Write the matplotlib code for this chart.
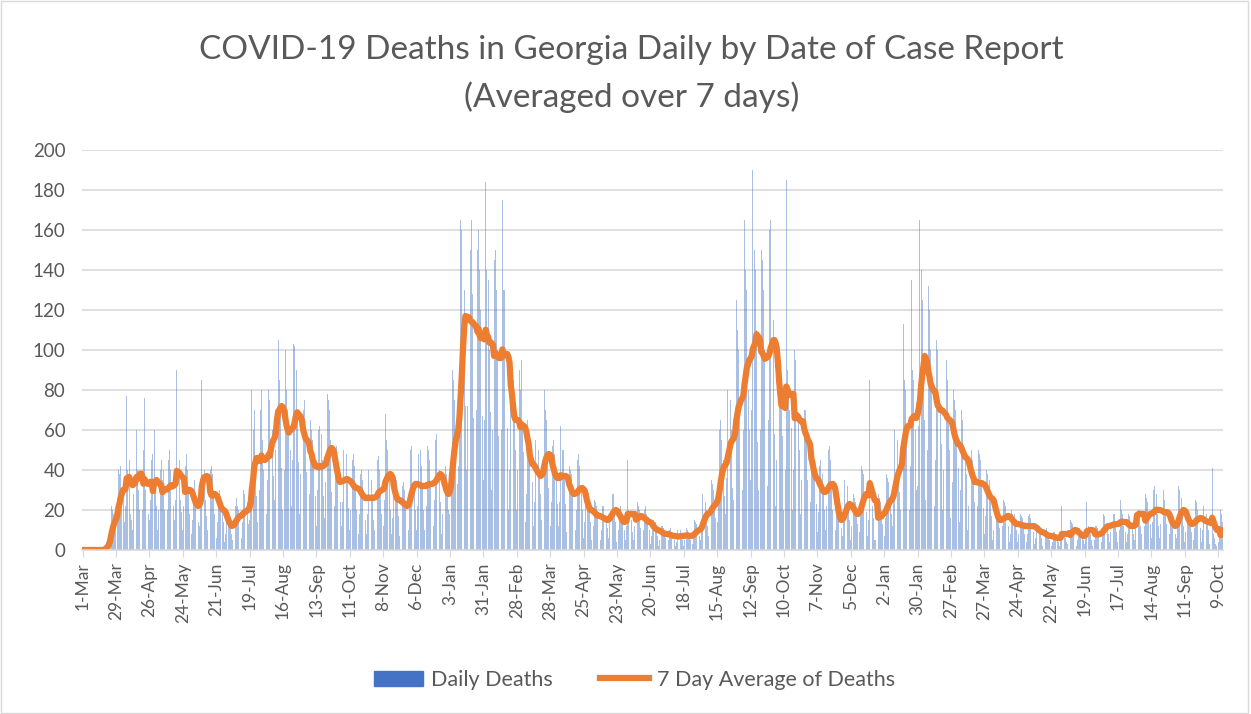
import numpy as np
import pandas as pd
import matplotlib
matplotlib.use("Agg")
import matplotlib.pyplot as plt
from matplotlib.patches import Rectangle
from matplotlib.lines import Line2D

plt.rcParams['font.family'] = ['Lato', 'DejaVu Sans']

# daily deaths, one row per week, starting Sunday 1-Mar-2020
daily_deaths = [
    0, 0, 0, 0, 0, 0, 0,
    0, 0, 0, 0, 0, 0, 0,
    0, 0, 0, 0, 1, 2, 4,
    3, 8, 12, 22, 20, 18, 15,
    12, 20, 40, 38, 42, 30, 28,
    14, 22, 77, 40, 45, 18, 15,
    10, 28, 78, 60, 40, 30, 20,
    12, 20, 50, 76, 30, 25, 18,
    15, 25, 45, 48, 60, 30, 22,
    10, 20, 40, 45, 35, 40, 20,
    12, 20, 45, 50, 40, 35, 22,
    15, 25, 90, 40, 45, 25, 19,
    10, 22, 42, 48, 40, 30, 18,
    8, 15, 30, 35, 28, 24, 14,
    12, 25, 85, 55, 40, 25, 17,
    10, 18, 40, 42, 38, 30, 18,
    6, 14, 28, 30, 26, 22, 14,
    4, 8, 16, 18, 16, 14, 8,
    5, 12, 22, 26, 22, 20, 12,
    6, 14, 30, 28, 25, 24, 13,
    15, 30, 80, 60, 70, 40, 27,
    14, 30, 70, 80, 55, 40, 26,
    18, 35, 80, 75, 80, 60, 37,
    25, 50, 128, 105, 85, 70, 41,
    20, 40, 100, 80, 70, 60, 50,
    22, 45, 103, 102, 90, 70, 44,
    18, 38, 90, 70, 75, 55, 39,
    14, 28, 65, 60, 55, 45, 27,
    12, 30, 60, 62, 58, 45, 27,
    16, 34, 78, 75, 70, 55, 29,
    10, 22, 50, 52, 45, 35, 24,
    12, 24, 50, 55, 48, 35, 21,
    10, 20, 45, 48, 42, 32, 20,
    8, 18, 38, 40, 35, 28, 15,
    8, 18, 40, 38, 35, 28, 15,
    10, 20, 45, 47, 40, 30, 18,
    12, 25, 68, 55, 50, 36, 20,
    8, 16, 38, 36, 35, 25, 17,
    7, 15, 32, 34, 30, 22, 14,
    10, 22, 50, 52, 45, 32, 20,
    10, 22, 48, 50, 42, 32, 20,
    10, 22, 52, 50, 45, 32, 20,
    12, 25, 55, 58, 52, 40, 24,
    8, 18, 40, 42, 38, 30, 20,
    18, 38, 90, 85, 75, 60, 33,
    42, 80, 165, 160, 170, 130, 72,
    40, 72, 170, 150, 165, 128, 66,
    35, 70, 150, 160, 140, 120, 67,
    35, 65, 184, 140, 135, 100, 69,
    30, 60, 145, 150, 130, 100, 57,
    30, 60, 175, 130, 130, 100, 61,
    20, 40, 95, 100, 85, 65, 50,
    20, 40, 90, 80, 95, 60, 49,
    14, 28, 65, 60, 55, 45, 34,
    12, 24, 55, 52, 50, 38, 28,
    15, 30, 80, 70, 65, 45, 31,
    12, 24, 52, 55, 48, 38, 23,
    12, 24, 62, 50, 50, 38, 23,
    9, 18, 42, 40, 38, 30, 19,
    10, 20, 45, 48, 42, 32, 20,
    6, 14, 30, 28, 28, 20, 14,
    5, 12, 25, 24, 22, 19, 12,
    5, 10, 22, 22, 20, 15, 11,
    6, 14, 30, 28, 28, 20, 14,
    4, 10, 20, 22, 18, 14, 10,
    5, 12, 45, 20, 20, 15, 9,
    5, 12, 25, 24, 22, 20, 11,
    4, 10, 20, 22, 18, 14, 10,
    3, 7, 14, 15, 14, 10, 7,
    2, 5, 12, 12, 11, 8, 6,
    2, 5, 10, 11, 9, 7, 5,
    2, 4, 10, 10, 10, 8, 5,
    2, 5, 11, 10, 9, 7, 5,
    3, 7, 15, 14, 13, 11, 7,
    5, 12, 28, 25, 24, 20, 12,
    7, 15, 35, 33, 30, 25, 16,
    14, 28, 60, 65, 55, 45, 27,
    18, 36, 80, 85, 75, 60, 31,
    25, 50, 125, 110, 100, 70, 45,
    30, 60, 165, 140, 130, 80, 60,
    35, 70, 190, 150, 140, 110, 54,
    30, 60, 150, 145, 130, 100, 57,
    32, 65, 160, 165, 140, 115, 58,
    22, 45, 110, 100, 95, 75, 57,
    20, 40, 185, 90, 80, 70, 61,
    20, 40, 100, 95, 85, 65, 50,
    18, 35, 102, 70, 70, 55, 35,
    12, 24, 55, 52, 48, 38, 23,
    9, 19, 42, 45, 38, 30, 20,
    10, 22, 50, 52, 45, 32, 20,
    5, 10, 22, 22, 20, 15, 11,
    7, 15, 35, 33, 32, 24, 15,
    5, 12, 28, 26, 24, 18, 13,
    9, 18, 42, 40, 38, 30, 19,
    7, 15, 85, 25, 22, 16, 5,
    5, 12, 28, 26, 24, 18, 13,
    7, 16, 38, 36, 34, 26, 18,
    12, 26, 60, 58, 55, 40, 29,
    20, 40, 113, 85, 80, 60, 36,
    20, 42, 135, 90, 85, 60, 30,
    32, 62, 165, 140, 125, 90, 65,
    25, 50, 132, 120, 100, 80, 53,
    22, 45, 105, 100, 95, 70, 53,
    20, 40, 100, 95, 85, 65, 50,
    16, 34, 80, 75, 70, 55, 41,
    14, 30, 70, 65, 60, 45, 38,
    10, 22, 52, 50, 45, 35, 24,
    10, 22, 50, 48, 45, 35, 21,
    8, 17, 40, 38, 35, 27, 17,
    5, 10, 22, 22, 20, 15, 11,
    5, 12, 25, 24, 22, 19, 12,
    4, 8, 20, 18, 18, 13, 10,
    4, 8, 18, 17, 16, 13, 8,
    4, 8, 17, 18, 16, 12, 9,
    3, 6, 13, 14, 12, 9, 6,
    2, 5, 10, 11, 9, 7, 5,
    2, 4, 9, 9, 8, 6, 4,
    2, 5, 22, 9, 8, 6, 4,
    3, 7, 15, 14, 13, 11, 7,
    2, 5, 10, 11, 9, 7, 5,
    3, 7, 24, 12, 11, 8, 5,
    2, 5, 12, 12, 11, 8, 6,
    4, 8, 18, 17, 16, 13, 8,
    4, 9, 20, 18, 18, 13, 9,
    4, 10, 25, 20, 18, 12, 9,
    4, 8, 18, 17, 16, 13, 8,
    5, 12, 51, 20, 18, 12, 8,
    5, 12, 28, 26, 24, 18, 13,
    6, 14, 30, 32, 28, 18, 12,
    6, 13, 28, 30, 25, 18, 13,
    4, 8, 18, 17, 16, 13, 8,
    6, 14, 32, 30, 26, 20, 12,
    4, 9, 20, 18, 18, 13, 9,
    5, 11, 25, 24, 20, 16, 11,
    4, 10, 22, 20, 18, 14, 10,
    3, 7, 41, 8, 6, 3, 2,
    4, 9, 20, 18, 14,
]

tick_labels = ['1-Mar', '29-Mar', '26-Apr', '24-May', '21-Jun', '19-Jul', '16-Aug',
               '13-Sep', '11-Oct', '8-Nov', '6-Dec', '3-Jan', '31-Jan', '28-Feb',
               '28-Mar', '25-Apr', '23-May', '20-Jun', '18-Jul', '15-Aug', '12-Sep',
               '10-Oct', '7-Nov', '5-Dec', '2-Jan', '30-Jan', '27-Feb', '27-Mar',
               '24-Apr', '22-May', '19-Jun', '17-Jul', '14-Aug', '11-Sep', '9-Oct']

deaths = pd.Series(daily_deaths, dtype=float)
avg7 = deaths.rolling(7, min_periods=1).mean()
days = np.arange(len(deaths))

fig = plt.figure(figsize=(12.51, 7.14), dpi=100)
ax = fig.add_axes([0.0655, 0.2297, 0.9125, 0.5603])

ax.bar(days, deaths, width=0.75, color='#4472C4', alpha=0.45, linewidth=0)
ax.plot(days, avg7, color='#ED7D31', linewidth=4.5, solid_capstyle='round')

ax.set_ylim(0, 200)
ax.set_yticks(range(0, 201, 20))
ax.set_xlim(-0.5, len(deaths) - 0.5)
ax.set_xticks(np.arange(len(tick_labels)) * 28)
ax.set_xticklabels(tick_labels, rotation=90)

ax.grid(axis='y', color='#D9D9D9', linewidth=1.2)
ax.set_axisbelow(True)
for s in ['top', 'right', 'left']:
    ax.spines[s].set_visible(False)
ax.spines['bottom'].set_color('#D9D9D9')
ax.spines['bottom'].set_linewidth(1.2)
ax.tick_params(axis='y', length=0, labelsize=13.5, labelcolor='#595959', pad=12)
ax.tick_params(axis='x', length=5, color='#D9D9D9', labelsize=12.5,
               labelcolor='#595959', pad=4)

fig.text(0.505, 0.93, 'COVID-19 Deaths in Georgia Daily by Date of Case Report',
         ha='center', va='center', fontsize=24, color='#595959')
fig.text(0.505, 0.864, '(Averaged over 7 days)',
         ha='center', va='center', fontsize=24, color='#595959')

handles = [Rectangle((0, 0), 1, 1, color='#4472C4'),
           Line2D([0], [0], color='#ED7D31', linewidth=4.5)]
fig.legend(handles, ['Daily Deaths', '7 Day Average of Deaths'],
           loc='center', bbox_to_anchor=(0.507, 0.048), ncol=2, frameon=False,
           fontsize=15.5, labelcolor='#595959', handlelength=2.3,
           handletextpad=0.35, columnspacing=2.2)

fig.patches.append(Rectangle((0.001, 0.001), 0.997, 0.997, transform=fig.transFigure,
                             fill=False, edgecolor='#D9D9D9', linewidth=1))

fig.savefig('out.png', dpi=100)
